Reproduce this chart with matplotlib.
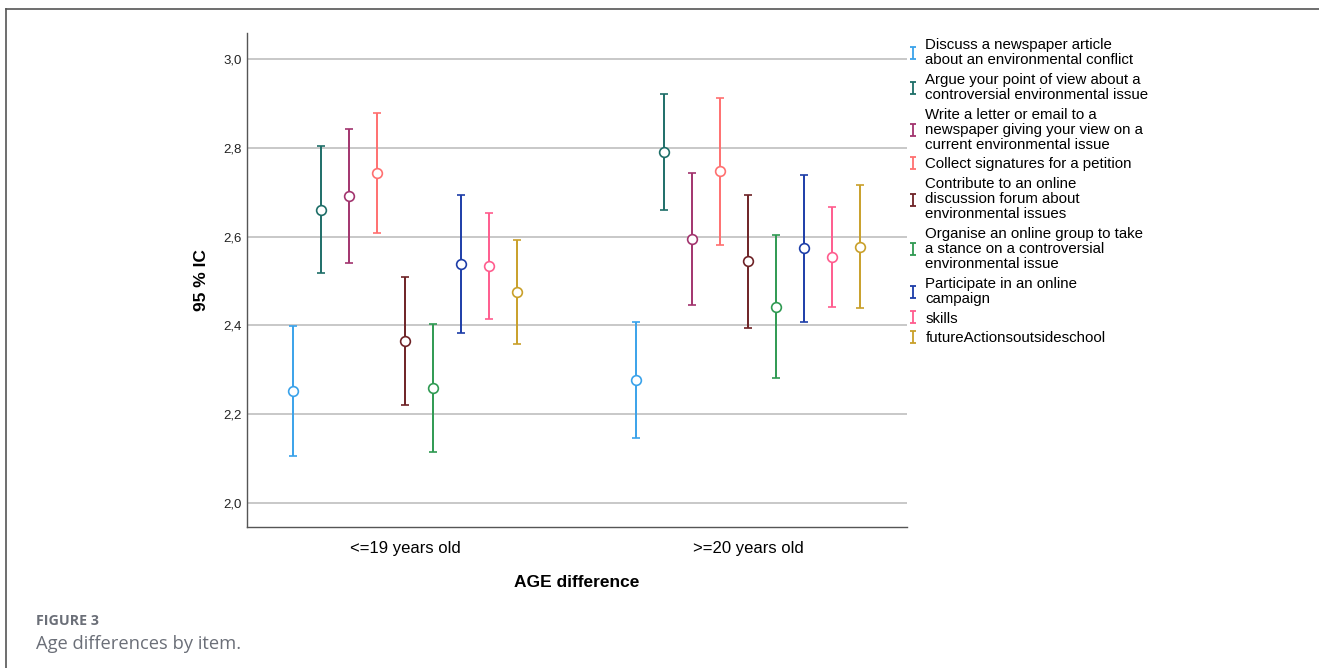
import matplotlib
matplotlib.use("Agg")
import matplotlib.pyplot as plt
from matplotlib.path import Path
from matplotlib.lines import Line2D
from matplotlib.ticker import FuncFormatter
import numpy as np

plt.rcParams['font.family'] = ['Liberation Sans', 'DejaVu Sans']

groups = ["<=19 years old", ">=20 years old"]
items = [
    "Discuss a newspaper article\nabout an environmental conflict",
    "Argue your point of view about a\ncontroversial environmental issue",
    "Write a letter or email to a\nnewspaper giving your view on a\ncurrent environmental issue",
    "Collect signatures for a petition",
    "Contribute to an online\ndiscussion forum about\nenvironmental issues",
    "Organise an online group to take\na stance on a controversial\nenvironmental issue",
    "Participate in an online\ncampaign",
    "skills",
    "futureActionsoutsideschool",
]
colors = ["#3aa2ea", "#1e6e68", "#a2346e", "#ff7070", "#6e2226",
          "#2f9a52", "#1d3da8", "#ff5c8e", "#c9a02a"]

# means, lower and upper 95% CI per group
mean_young = [2.252, 2.660, 2.691, 2.743, 2.365, 2.259, 2.538, 2.534, 2.475]
low_young  = [2.106, 2.518, 2.541, 2.608, 2.221, 2.115, 2.383, 2.414, 2.358]
up_young   = [2.399, 2.804, 2.842, 2.878, 2.509, 2.403, 2.694, 2.653, 2.592]

mean_old = [2.277, 2.790, 2.595, 2.748, 2.545, 2.441, 2.574, 2.554, 2.577]
low_old  = [2.146, 2.660, 2.446, 2.581, 2.394, 2.282, 2.408, 2.441, 2.439]
up_old   = [2.408, 2.921, 2.743, 2.912, 2.694, 2.604, 2.739, 2.667, 2.716]

yticks = [2.0, 2.2, 2.4, 2.6, 2.8, 3.0]

fig = plt.figure(figsize=(13.19, 6.68), dpi=100)
ax = fig.add_axes([247/1319, 1-527/668, 660/1319, 494/668])

means = np.array([mean_young, mean_old])
lows = np.array([low_young, low_old])
ups = np.array([up_young, up_old])
n = len(items)
step = 28/343
for i in range(n):
    xs = np.arange(len(groups)) + (i - (n-1)/2) * step
    m = means[:, i]
    yerr = np.vstack([m - lows[:, i], ups[:, i] - m])
    ax.errorbar(xs, m, yerr=yerr, fmt='o', color=colors[i], mfc='white',
                mec=colors[i], ms=7, mew=1.2, elinewidth=1.4,
                capsize=2.9, capthick=1.4, zorder=3)

ax.set_xlim(-0.461, 1.4636)
ax.set_ylim(2.0 - 24/444, 3.0 + 26/444)
ax.set_yticks(yticks)
ax.yaxis.set_major_formatter(FuncFormatter(lambda v, p: f"{v:.1f}".replace('.', ',')))
ax.set_xticks(range(len(groups)))
ax.set_xticklabels(groups, fontsize=12)
ax.tick_params(axis='both', length=0)
ax.tick_params(axis='y', labelsize=9.5, pad=4, colors='#222222')
ax.tick_params(axis='x', pad=10)
ax.grid(axis='y', color='#c4c4c4', linewidth=1.3, zorder=0)
ax.set_axisbelow(True)
for s in ['top', 'right']:
    ax.spines[s].set_visible(False)
for s in ['left', 'bottom']:
    ax.spines[s].set_color('#555555')
    ax.spines[s].set_linewidth(1.0)

ax.set_ylabel("95 % IC", fontsize=12.5, fontweight='bold', labelpad=10)
ax.set_xlabel("AGE difference", fontsize=12.5, fontweight='bold', labelpad=14)

# legend with I-shaped markers
ipath = Path([(-0.5, -1), (0.5, -1), (0, -1), (0, 1), (-0.5, 1), (0.5, 1)],
             [Path.MOVETO, Path.LINETO, Path.MOVETO, Path.LINETO, Path.MOVETO, Path.LINETO])
handles = [Line2D([], [], linestyle='none', marker=ipath, markersize=8,
                  markeredgecolor=c, markerfacecolor='none', markeredgewidth=1.3)
           for c in colors]
leg = fig.legend(handles, items, loc='upper left', bbox_to_anchor=(908/1319, 1-38/668),
                 frameon=False, fontsize=10.8, handlelength=0.6, handletextpad=0.55,
                 labelspacing=0.37, borderaxespad=0, borderpad=0)
for t in leg.get_texts():
    t.set_linespacing(1.11)

# figure frame and caption
fig.add_artist(Line2D([6/1319, 1.0], [1-9/668, 1-9/668], transform=fig.transFigure,
                      color='#555555', linewidth=1.2))
fig.add_artist(Line2D([6/1319, 6/1319], [0, 1-9/668], transform=fig.transFigure,
                      color='#555555', linewidth=1.2))
fig.text(36/1319, 1-621/668, "FIGURE 3", fontsize=10.3, fontweight='bold',
         color='#6b6f78', va='center', family=['Open Sans', 'DejaVu Sans'])
fig.text(36/1319, 1-644/668, "Age differences by item.", fontsize=13.2,
         color='#6b6f78', va='center', family=['Open Sans', 'DejaVu Sans'])

fig.savefig("out.png", dpi=100)
